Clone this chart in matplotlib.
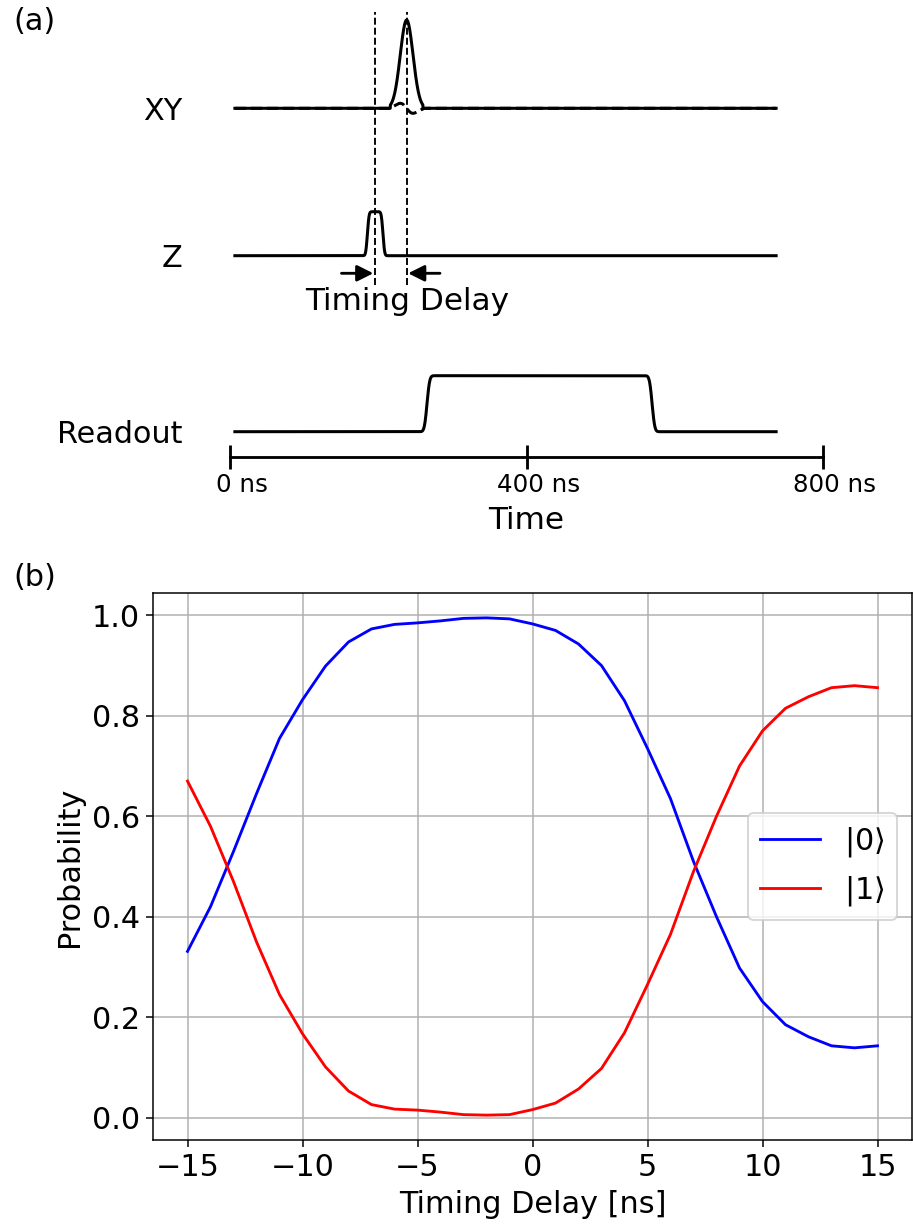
import numpy as np
import matplotlib
matplotlib.use("Agg")
import matplotlib.pyplot as plt
import matplotlib.transforms as mtransforms
from math import erf

plt.rcParams['font.size'] = 16
plt.rcParams['font.family'] = ['DejaVu Sans']

# ---------------- panel (b) data ----------------
delay_ns = [-15, -14, -13, -12, -11, -10, -9, -8, -7, -6, -5, -4, -3, -2, -1, 0,
            1, 2, 3, 4, 5, 6, 7, 8, 9, 10, 11, 12, 13, 14, 15]
prob_0 = [0.331, 0.420, 0.530, 0.645, 0.755, 0.832, 0.899, 0.947, 0.973, 0.982,
          0.985, 0.989, 0.994, 0.995, 0.993, 0.983, 0.970, 0.943, 0.900, 0.830,
          0.735, 0.635, 0.510, 0.400, 0.298, 0.231, 0.185, 0.161, 0.143, 0.139, 0.143]
prob_1 = [0.670, 0.580, 0.470, 0.350, 0.245, 0.167, 0.101, 0.053, 0.026, 0.017,
          0.015, 0.011, 0.006, 0.005, 0.006, 0.016, 0.029, 0.057, 0.098, 0.169,
          0.265, 0.365, 0.490, 0.600, 0.700, 0.770, 0.815, 0.838, 0.856, 0.860, 0.856]
series_labels = [r'$|0\rangle$', r'$|1\rangle$']

# ---------------- panel (a) schematic parameters ----------------
channels = ['XY', 'Z', 'Readout']
channel_levels = [3.234, 1.76, 0.0]
time_ticks = [0, 400, 800]
time_tick_labels = ['0 ns', '400 ns', '800 ns']
t_start, t_end = 6, 737
xy_center, xy_sigma, xy_halfwidth, xy_amp, drag_amp = 238.0, 8.6, 22.0, 0.883, 0.05
z_on, z_off, z_amp, z_edge = 185.0, 206.0, 0.44, 2.5
ro_on, ro_off, ro_amp, ro_edge = 265.5, 569.5, 0.56, 4.0
z_marker, xy_marker = 195.0, 238.0
marker_span = (1.467, 4.197)
arrow_y = 1.584
arrow_len = 43.0

# ---------------- figure ----------------
fig = plt.figure(figsize=(913 / 136, 1224 / 136), dpi=136)

# panel (a)
ax_a = fig.add_axes([186 / 913, 1 - 456.7 / 1224, (867.2 - 186) / 913, 454.7 / 1224])
t = np.linspace(t_start, t_end, 4000)

def flat_top(tt, on, off, w):
    return np.array([0.5 * (erf((x - on) / w) - erf((x - off) / w)) for x in tt])

inside = np.abs(t - xy_center) <= xy_halfwidth
g = np.exp(-(t - xy_center) ** 2 / (2 * xy_sigma ** 2))
xy_i = np.where(inside, xy_amp * g, 0.0)
xy_q = np.where(inside, drag_amp * (-(t - xy_center) / xy_sigma) * np.exp(0.5) * g, 0.0)
z_wave = z_amp * flat_top(t, z_on, z_off, z_edge)
ro_wave = ro_amp * flat_top(t, ro_on, ro_off, ro_edge)

lw = 1.6
ax_a.plot(t, channel_levels[0] + xy_i, color='k', lw=lw)
ax_a.plot(t, channel_levels[0] + xy_q, color='k', lw=lw, ls='--')
ax_a.plot(t, channel_levels[1] + z_wave, color='k', lw=lw)
ax_a.plot(t, channel_levels[2] + ro_wave, color='k', lw=lw)

for xm in (z_marker, xy_marker):
    ax_a.plot([xm, xm], marker_span, color='k', lw=1.0, ls='--')

ax_a.annotate('', xy=(z_marker - 2, arrow_y), xytext=(z_marker - 2 - arrow_len, arrow_y),
              arrowprops=dict(arrowstyle='-|>', color='k', lw=1.5, mutation_scale=18,
                              shrinkA=0, shrinkB=0))
ax_a.annotate('', xy=(xy_marker + 2, arrow_y), xytext=(xy_marker + 2 + arrow_len, arrow_y),
              arrowprops=dict(arrowstyle='-|>', color='k', lw=1.5, mutation_scale=18,
                              shrinkA=0, shrinkB=0))
ax_a.text(238.5, 1.30, 'Timing Delay', ha='center', va='center', fontsize=16.5)

ax_a.set_xlim(-60, 860)
ax_a.set_ylim(-0.25, 4.297)
for s in ['top', 'right', 'left']:
    ax_a.spines[s].set_visible(False)
ax_a.spines['bottom'].set_bounds(0, 800)
ax_a.spines['bottom'].set_linewidth(1.5)
ax_a.set_xticks(time_ticks, time_tick_labels, fontsize=13)
ax_a.tick_params(axis='x', direction='inout', length=12.3, width=1.5, pad=2.5)
offset = mtransforms.ScaledTranslation(12 / 136, 0, fig.dpi_scale_trans)
for lab in ax_a.get_xticklabels():
    lab.set_transform(lab.get_transform() + offset)
ax_a.set_yticks(channel_levels, channels, fontsize=16)
ax_a.tick_params(axis='y', length=0, pad=2)
ax_a.set_xlabel('Time', fontsize=16.5, labelpad=5)

# panel (b)
ax_b = fig.add_axes([153 / 913, 1 - 1140 / 1224, 759 / 913, 547 / 1224])
ax_b.plot(delay_ns, prob_0, color='blue', label=series_labels[0])
ax_b.plot(delay_ns, prob_1, color='red', label=series_labels[1])
ax_b.grid(True)
ax_b.set_xlabel('Timing Delay [ns]')
ax_b.set_ylabel('Probability')
ax_b.set_yticks([0.0, 0.2, 0.4, 0.6, 0.8, 1.0])
ax_b.legend(loc='center right')

fig.text(13 / 913, 1 - 22 / 1224, '(a)', ha='left', va='center', fontsize=16)
fig.text(13 / 913, 1 - 578 / 1224, '(b)', ha='left', va='center', fontsize=16)

fig.savefig('out.png', dpi=136)
